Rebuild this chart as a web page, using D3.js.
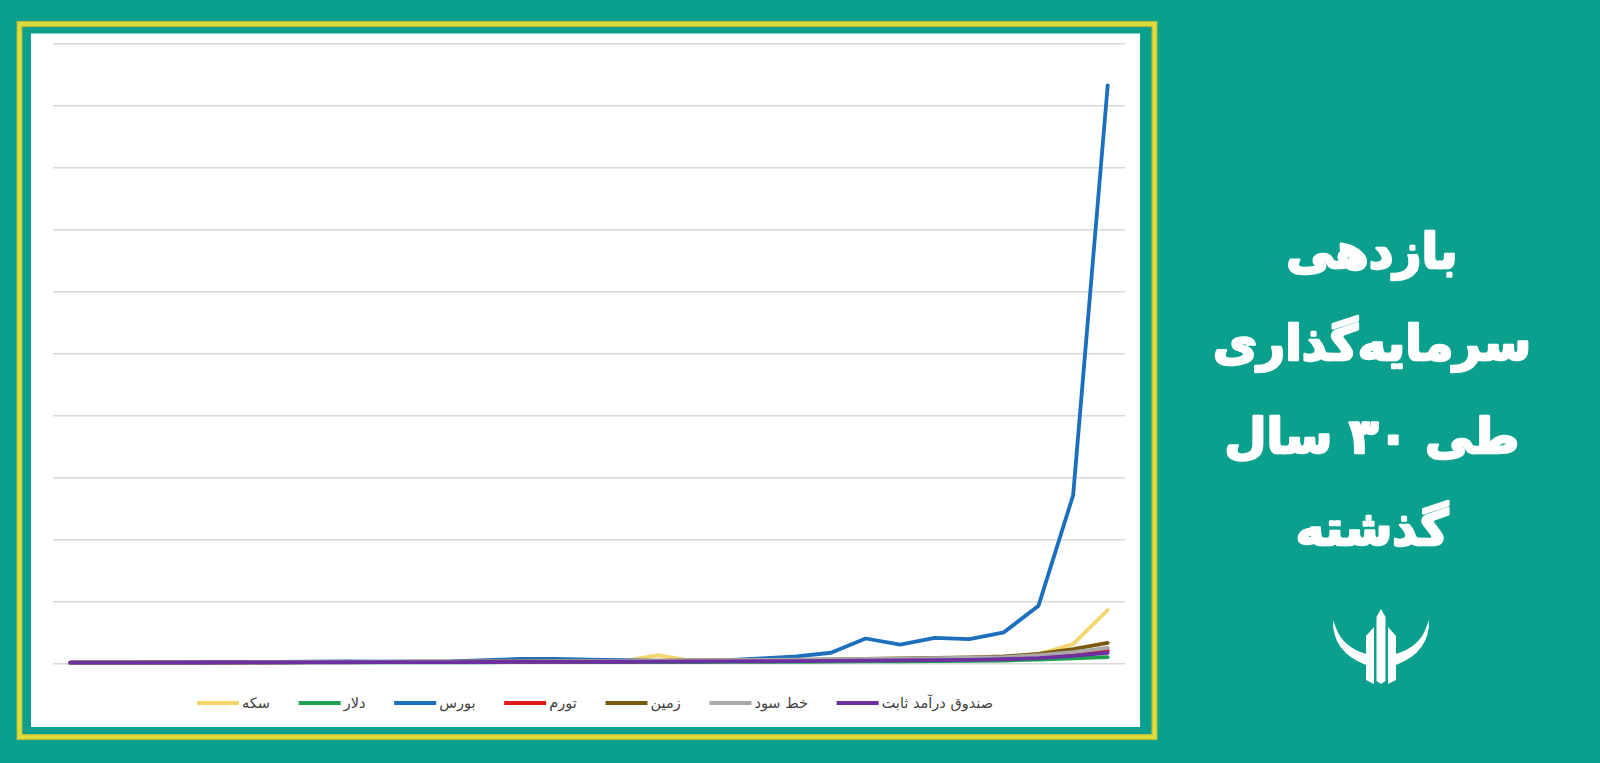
<!DOCTYPE html>
<html>
<head>
<meta charset="utf-8">
<script src="https://cdn.jsdelivr.net/npm/d3@7"></script>
<style>
  html, body { margin: 0; padding: 0; background: #0b9f8e; }
  svg { display: block; }
</style>
</head>
<body>
<svg id="chart" width="1600" height="763"></svg>
<script>
// ---------------- DATA ----------------
const years = ["1368","1369","1370","1371","1372","1373","1374","1375","1376","1377","1378",
               "1379","1380","1381","1382","1383","1384","1385","1386","1387","1388",
               "1389","1390","1391","1392","1393","1394","1395","1396","1397","1398"];

const seriesNames = ["سکه", "دلار", "بورس", "تورم", "زمین", "خط سود", "صندوق درآمد ثابت"];

const coin      = [1,1.1,1.2,1.4,1.5,1.6,1.7,1.8,2,2.1,2.2,2.3,2.4,2.5,2.6,2.8,3.5,13,3.5,3.8,4.2,5,5.5,6,6.5,7.5,8.5,10,15,31,86];
const dollar    = [1,1,1.1,1.2,1.2,1.3,1.3,1.4,1.5,1.5,1.6,1.6,1.7,1.8,1.8,1.9,2,2,2.1,2.2,2.3,2.5,2.7,3,3.3,3.6,4,4.5,6,8,10];
const bourse    = [1,1,1.2,1.5,2,2,2.2,2.5,3,2.8,2.6,3,5,7,7,6,5,4,3.5,5,8,11,17,40,30,41,39,50,93,271,932];
const inflation = [1,1.1,1.2,1.3,1.5,1.6,1.7,1.8,1.9,2,2.2,2.3,2.5,2.7,2.9,3.1,3.3,3.5,3.8,4.1,4.5,5,5.5,6,6.6,7.3,8,9,11,15,21];
const land      = [1,1.1,1.2,1.4,1.5,1.7,1.8,2,2.1,2.3,2.5,2.7,2.9,3.1,3.3,3.6,3.9,4.2,4.5,4.8,5.2,5.6,6.2,7,7.8,8.7,9.6,11,15,23,33];
const interest  = [1,1.1,1.2,1.3,1.5,1.6,1.8,1.9,2.1,2.3,2.5,2.7,2.9,3.1,3.3,3.6,3.9,4.2,4.5,4.9,5.3,5.8,6.3,6.9,7.5,8.2,9,10,13,18,25];
const fund      = [1,1,1.1,1.2,1.3,1.4,1.5,1.6,1.7,1.8,1.9,2,2.1,2.2,2.3,2.4,2.5,2.7,2.9,3.1,3.3,3.6,3.9,4.2,4.6,5,5.5,6.5,8.5,12,17];

const yTicks = [0,100,200,300,400,500,600,700,800,900,1000];

const titleLines = ["بازدهی", "سرمایه‌گذاری", "طی ۳۰ سال", "گذشته"];

// ---------------- STYLE ----------------
const seriesColors = ["#f4d66c", "#1ea14f", "#1c6fbd", "#e01b1b", "#7a5a0c", "#a9a9a9", "#6d30a0"];

const allSeries = [coin, dollar, bourse, inflation, land, interest, fund];

const svg = d3.select("#chart");

// background
svg.append("rect").attr("x",0).attr("y",0).attr("width",1600).attr("height",763).attr("fill","#0b9f8e");

// yellow frame
svg.append("rect").attr("x",19.5).attr("y",24).attr("width",1135).attr("height",713)
  .attr("fill","none").attr("stroke","#b8c03a").attr("stroke-width",6);
svg.append("rect").attr("x",19.5).attr("y",24).attr("width",1135).attr("height",713)
  .attr("fill","none").attr("stroke","#e2dc3e").attr("stroke-width",3.5);

// white panel
svg.append("rect").attr("x",31).attr("y",33.5).attr("width",1109).attr("height",693.5).attr("fill","#ffffff");

// scales
const x = d3.scalePoint().domain(years).range([53, 1125]).padding(0.5);
const y = d3.scaleLinear().domain([0, 1000]).range([663.3, 43.3]);

// gridlines
const grid = svg.append("g").attr("transform", "translate(53,0)")
  .call(d3.axisLeft(y).tickValues(yTicks).tickSize(-(1125 - 53)).tickFormat(""));
grid.select(".domain").remove();
grid.selectAll(".tick line").attr("stroke", "#d9d9d9").attr("stroke-width", 1.4);

// lines
const line = d3.line().x((d, i) => x(years[i])).y(d => y(d));
allSeries.forEach((s, k) => {
  svg.append("path").datum(s)
    .attr("d", line)
    .attr("fill", "none")
    .attr("stroke", seriesColors[k])
    .attr("stroke-width", 3.8)
    .attr("stroke-linejoin", "round")
    .attr("stroke-linecap", "round");
});

// legend
const legend = svg.append("g");
const legY = 703, lineLen = 42, textGap = 3;
const items = seriesNames.map((name, k) => {
  const g = legend.append("g");
  g.append("line").attr("x1",0).attr("x2",lineLen).attr("y1",legY).attr("y2",legY)
    .attr("stroke", seriesColors[k]).attr("stroke-width", 3.8);
  const t = g.append("text").attr("x", lineLen + textGap).attr("y", legY + 5)
    .attr("font-family", "DejaVu Sans").attr("font-size", 14.5).attr("fill", "#404040")
    .text(name);
  const w = t.node().getComputedTextLength();
  return {g, w: lineLen + textGap + w};
});
const legLeft = 197, legRight = 993;
const sumW = d3.sum(items, d => d.w);
const gap = (legRight - legLeft - sumW) / (items.length - 1);
let cx = legLeft;
items.forEach(it => { it.g.attr("transform", `translate(${cx},0)`); cx += it.w + gap; });

// title
const title = svg.append("g");
const baselines = [268, 360, 453, 545];
const tmp = title.append("text").attr("font-family","DejaVu Sans").attr("font-weight","bold")
  .attr("font-size", 50).text(titleLines[1]);
const w50 = tmp.node().getComputedTextLength();
tmp.remove();
const fs = 50 * 318 / w50;
titleLines.forEach((t, i) => {
  title.append("text").attr("x", 1372).attr("y", baselines[i])
    .attr("text-anchor", "middle").attr("font-family", "DejaVu Sans").attr("font-weight", "bold")
    .attr("font-size", fs).attr("fill", "#ffffff")
    .attr("stroke", "#ffffff").attr("stroke-width", 2.5).attr("stroke-linejoin", "round")
    .text(t);
});

// logo
const logo = svg.append("g").attr("fill", "#ffffff");
logo.append("path").attr("d", "M1381 609 L1385.5 617 L1385.5 681 L1381 684 L1376.5 681 L1376.5 617 Z");
const half = "M1333 620 Q1332 652 1366 665 L1366 680 L1374 684 L1374 627 L1366 636 L1366 654 Q1343 647 1336 628 Z";
logo.append("path").attr("d", half);
logo.append("path").attr("d", half).attr("transform", "translate(2762,0) scale(-1,1)");
</script>
</body>
</html>
